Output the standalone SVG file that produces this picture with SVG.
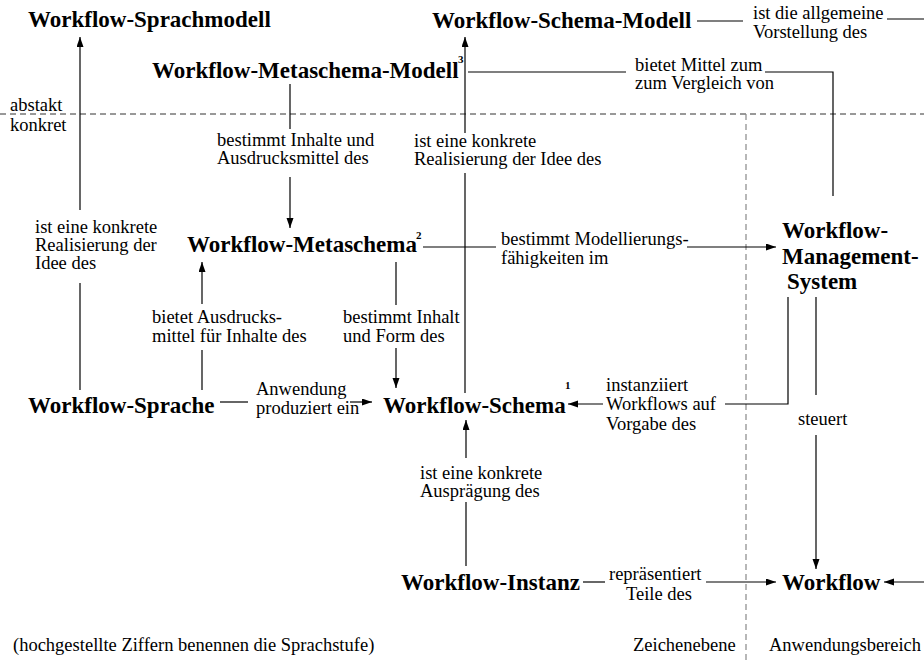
<svg xmlns="http://www.w3.org/2000/svg" width="924" height="662" viewBox="0 0 924 662">
  <style>
    .node { font-family: "Liberation Serif", "Times New Roman", serif; font-weight: bold; font-size: 23px; fill: #000; }
    .sup { font-family: "Liberation Serif", "Times New Roman", serif; font-weight: bold; font-size: 11px; fill: #000; }
    .lbl { font-family: "Liberation Serif", "Times New Roman", serif; font-size: 18.5px; fill: #000; }
    .ln { stroke: #000; stroke-width: 1.2; fill: none; }
    .arr { stroke: #000; stroke-width: 1.2; fill: none; marker-end: url(#head); }
    .hdash { stroke: #333; stroke-width: 1; stroke-dasharray: 6 4; fill: none; }
    .vdash { stroke: #888; stroke-width: 1.2; stroke-dasharray: 6 4; fill: none; }
  </style>
  <defs>
    <marker id="head" markerUnits="userSpaceOnUse" markerWidth="11" markerHeight="8" refX="10" refY="3.5" orient="auto">
      <path d="M0,0 L10,3.5 L0,7 z" fill="#000"/>
    </marker>
  </defs>
  <rect width="924" height="662" fill="#fff"/>

  <!-- level separators -->
  <g id="separators">
    <line class="hdash" x1="0" y1="114" x2="924" y2="114"/>
    <line class="vdash" x1="746" y1="114" x2="746" y2="662"/>
    <text class="lbl" x="10" y="111">abstakt</text>
    <text class="lbl" x="10" y="131">konkret</text>
    <text class="lbl" x="633" y="651">Zeichenebene</text>
    <text class="lbl" x="769" y="651">Anwendungsbereich</text>
    <text class="lbl" x="13" y="651">(hochgestellte Ziffern benennen die Sprachstufe)</text>
  </g>

  <!-- nodes -->
  <g id="sprachmodell"><text class="node" x="28" y="27">Workflow-Sprachmodell</text></g>
  <g id="schema-modell"><text class="node" x="432" y="28">Workflow-Schema-Modell</text></g>
  <g id="metaschema-modell">
    <text class="node" x="152" y="78">Workflow-Metaschema-Modell</text>
    <text class="sup" x="458" y="63">3</text>
  </g>
  <g id="metaschema">
    <text class="node" x="187" y="252">Workflow-Metaschema</text>
    <text class="sup" x="416" y="239">2</text>
  </g>
  <g id="wfms">
    <text class="node" x="782" y="238">Workflow-</text>
    <text class="node" x="782" y="264">Management-</text>
    <text class="node" x="787" y="289">System</text>
  </g>
  <g id="sprache"><text class="node" x="28" y="413">Workflow-Sprache</text></g>
  <g id="schema">
    <text class="node" x="383" y="413">Workflow-Schema</text>
    <text class="sup" x="565" y="389">1</text>
  </g>
  <g id="instanz"><text class="node" x="401" y="590">Workflow-Instanz</text></g>
  <g id="workflow"><text class="node" x="782" y="590">Workflow</text></g>

  <!-- connectors -->
  <g id="connectors">
    <!-- Schema-Modell: ist die allgemeine Vorstellung des -->
    <line class="ln" x1="697" y1="21" x2="743" y2="21"/>
    <line class="ln" x1="887" y1="19" x2="924" y2="19"/>
    <line class="arr" x1="924" y1="582" x2="884" y2="582"/>

    <!-- Metaschema-Modell: bietet Mittel zum Vergleich von -->
    <polyline class="ln" points="468,72 626,72"/>
    <polyline class="ln" points="765,72 833,72 833,196"/>

    <!-- Sprache -> Sprachmodell -->
    <line class="arr" x1="80" y1="210" x2="80" y2="37"/>
    <line class="ln" x1="80" y1="283" x2="80" y2="390"/>

    <!-- Metaschema-Modell -> Metaschema -->
    <line class="ln" x1="290" y1="84" x2="290" y2="129"/>
    <line class="arr" x1="290" y1="177" x2="290" y2="228"/>

    <!-- Schema -> Schema-Modell -->
    <line class="arr" x1="465" y1="133" x2="465" y2="37"/>
    <line class="ln" x1="465" y1="173" x2="465" y2="393"/>

    <!-- Metaschema -> WfMS -->
    <line class="ln" x1="423" y1="247" x2="496" y2="247"/>
    <line class="arr" x1="687" y1="247" x2="776" y2="247"/>

    <!-- Sprache -> Metaschema -->
    <line class="arr" x1="202" y1="304" x2="202" y2="262"/>
    <line class="ln" x1="202" y1="350" x2="202" y2="390"/>

    <!-- Metaschema -> Schema -->
    <line class="ln" x1="396" y1="262" x2="396" y2="305"/>
    <line class="arr" x1="396" y1="348" x2="396" y2="388"/>

    <!-- Sprache -> Schema -->
    <line class="ln" x1="220" y1="402" x2="248" y2="402"/>
    <line class="arr" x1="350" y1="402" x2="372" y2="402"/>

    <!-- WfMS -> Schema -->
    <polyline class="ln" points="788,297 788,404 725,404"/>
    <line class="arr" x1="603" y1="404" x2="568" y2="404"/>

    <!-- WfMS -> Workflow -->
    <line class="ln" x1="816" y1="297" x2="816" y2="395"/>
    <line class="arr" x1="816" y1="435" x2="816" y2="569"/>

    <!-- Instanz -> Schema -->
    <line class="arr" x1="466" y1="458" x2="466" y2="420"/>
    <line class="ln" x1="466" y1="502" x2="466" y2="566"/>

    <!-- Instanz -> Workflow -->
    <line class="ln" x1="583" y1="582" x2="605" y2="582"/>
    <line class="arr" x1="706" y1="582" x2="776" y2="582"/>
  </g>

  <!-- connector labels -->
  <g id="labels">
    <text class="lbl" x="753" y="19">ist die allgemeine</text>
    <text class="lbl" x="753" y="38">Vorstellung des</text>
    <text class="lbl" x="635" y="71">bietet Mittel zum</text>
    <text class="lbl" x="635" y="89">zum Vergleich von</text>
    <text class="lbl" x="217" y="146">bestimmt Inhalte und</text>
    <text class="lbl" x="217" y="164">Ausdrucksmittel des</text>
    <text class="lbl" x="414" y="147">ist eine konkrete</text>
    <text class="lbl" x="414" y="165">Realisierung der Idee des</text>
    <text class="lbl" x="35" y="233">ist eine konkrete</text>
    <text class="lbl" x="35" y="251">Realisierung der</text>
    <text class="lbl" x="35" y="269">Idee des</text>
    <text class="lbl" x="501" y="245">bestimmt Modellierungs-</text>
    <text class="lbl" x="501" y="264">fähigkeiten im</text>
    <text class="lbl" x="152" y="323">bietet Ausdrucks-</text>
    <text class="lbl" x="152" y="342">mittel für Inhalte des</text>
    <text class="lbl" x="343" y="323">bestimmt Inhalt</text>
    <text class="lbl" x="343" y="342">und Form des</text>
    <text class="lbl" x="256" y="395">Anwendung</text>
    <text class="lbl" x="256" y="414">produziert ein</text>
    <text class="lbl" x="606" y="391">instanziiert</text>
    <text class="lbl" x="606" y="410">Workflows auf</text>
    <text class="lbl" x="606" y="430">Vorgabe des</text>
    <text class="lbl" x="798" y="425">steuert</text>
    <text class="lbl" x="420" y="479">ist eine konkrete</text>
    <text class="lbl" x="420" y="497">Ausprägung des</text>
    <text class="lbl" x="609" y="580">repräsentiert</text>
    <text class="lbl" x="626" y="600">Teile des</text>
  </g>
</svg>
